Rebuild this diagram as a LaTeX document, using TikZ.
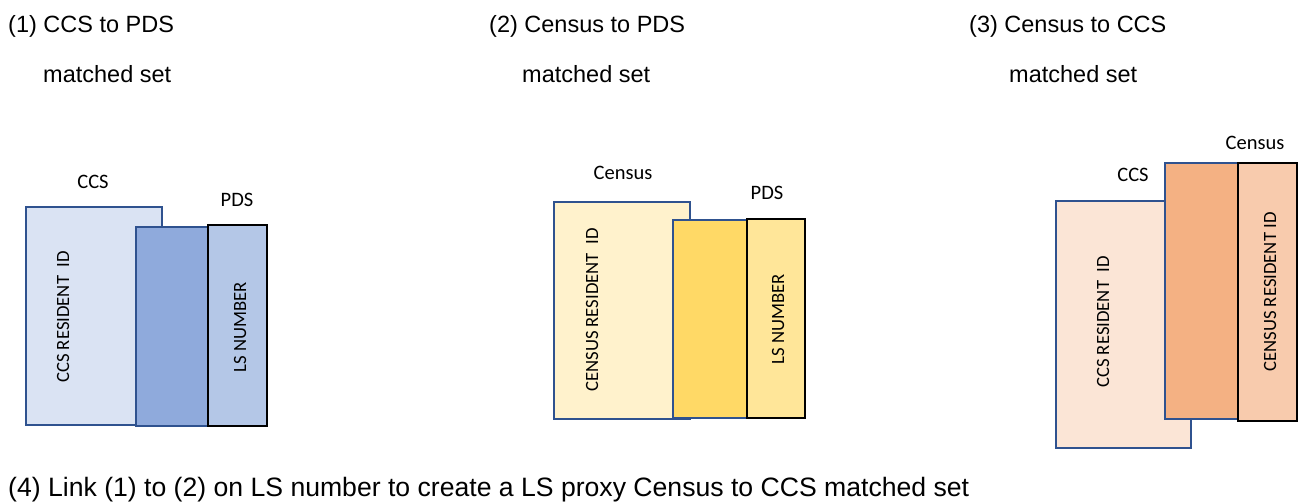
\documentclass[tikz,border=0pt]{standalone}
\usepackage{fontspec}
\setmainfont{Liberation Sans}
\newfontfamily\calibrifont{Carlito}
\definecolor{outl}{HTML}{2F528F}
\definecolor{bA}{HTML}{DAE3F3}
\definecolor{bB}{HTML}{8FAADC}
\definecolor{bC}{HTML}{B4C7E7}
\definecolor{yA}{HTML}{FFF2CC}
\definecolor{yB}{HTML}{FFD966}
\definecolor{yC}{HTML}{FFE699}
\definecolor{oA}{HTML}{FBE5D6}
\definecolor{oB}{HTML}{F4B183}
\definecolor{oC}{HTML}{F8CBAD}
\tikzset{
  boxblue/.style={draw=outl, line width=2.8pt, rectangle, inner sep=0pt, outer sep=0pt, anchor=north west},
  boxblack/.style={draw=black, line width=2pt, rectangle, inner sep=0pt, outer sep=0pt, anchor=north west},
  title/.style={anchor=base west, inner sep=0pt, font=\fontsize{23.5}{28}\selectfont},
  bigtitle/.style={anchor=base west, inner sep=0pt, font=\fontsize{26.6}{32}\selectfont},
  lbl/.style={inner sep=0pt, font=\calibrifont\fontsize{20.5}{24}\selectfont},
  vlbl/.style={inner sep=0pt, rotate=90, font=\calibrifont\fontsize{18.7}{22}\selectfont},
}
\begin{document}
\begin{tikzpicture}[x=1pt,y=-1pt]
\useasboundingbox (0,0) rectangle (1304,501);
% titles
\node[title] (t1) at (8,32) {(1) CCS to PDS};
\node[title] (m1) at (43,82) {matched set};
\node[title] (t2) at (489,32) {(2) Census to PDS};
\node[title] (m2) at (522,82) {matched set};
\node[title] (t3) at (969,32) {(3) Census to CCS};
\node[title] (m3) at (1009,82) {matched set};
\node[bigtitle] (t4) at (8,496) {(4) Link (1) to (2) on LS number to create a LS proxy Census to CCS matched set};
% panel 1
\node[boxblue, fill=bA, minimum width=136pt, minimum height=218pt] (p1a) at (26,207) {};
\node[boxblue, fill=bB, minimum width=72pt, minimum height=199pt] (p1b) at (136,227) {};
\node[boxblack, fill=bC, minimum width=59pt, minimum height=201pt] (p1c) at (208,225) {};
\node[lbl] (l1a) at (93,182) {CCS};
\node[lbl] (l1c) at (237,200) {PDS};
\node[vlbl] (v1a) at (63,317) {CCS RESIDENT\ \ ID};
\node[vlbl] (v1c) at (240,327) {LS NUMBER};
% panel 2
\node[boxblue, fill=yA, minimum width=136pt, minimum height=217pt] (p2a) at (554,202) {};
\node[boxblue, fill=yB, minimum width=74pt, minimum height=198pt] (p2b) at (673,220) {};
\node[boxblack, fill=yC, minimum width=58pt, minimum height=199pt] (p2c) at (747,219) {};
\node[lbl] (l2a) at (623,173) {Census};
\node[lbl] (l2c) at (767,193) {PDS};
\node[vlbl] (v2a) at (592,310) {CENSUS RESIDENT\ \ ID};
\node[vlbl] (v2c) at (778,319) {LS NUMBER};
% panel 3
\node[boxblue, fill=oA, minimum width=135pt, minimum height=247pt] (p3a) at (1056,201) {};
\node[boxblue, fill=oB, minimum width=73pt, minimum height=256pt] (p3b) at (1165,163) {};
\node[boxblack, fill=oC, minimum width=59pt, minimum height=258pt] (p3c) at (1238,163) {};
\node[lbl] (l3c) at (1255,143) {Census};
\node[lbl] (l3a) at (1133,175) {CCS};
\node[vlbl] (v3a) at (1103,322) {CCS RESIDENT\ \ ID};
\node[vlbl] (v3c) at (1270,292) {CENSUS RESIDENT ID};
\end{tikzpicture}
\end{document}
